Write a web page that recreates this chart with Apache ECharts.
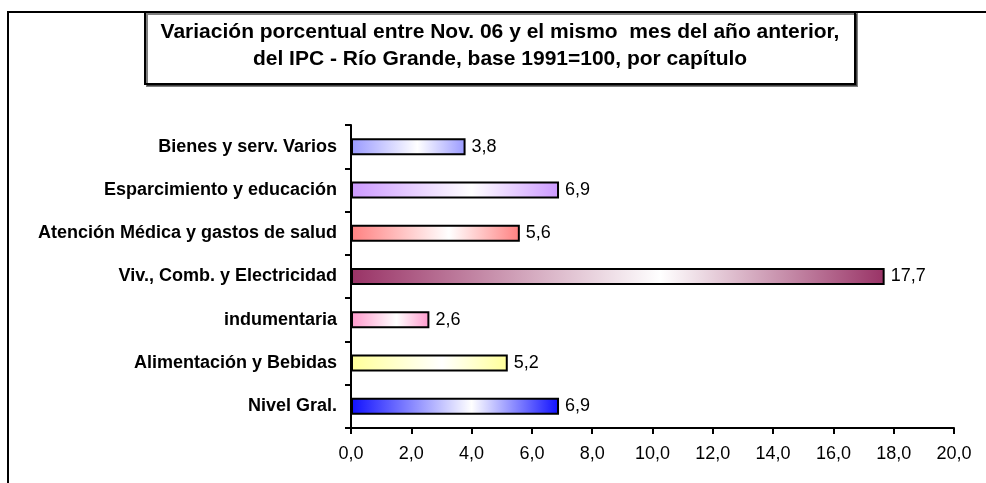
<!DOCTYPE html>
<html>
<head>
<meta charset="utf-8">
<script src="https://cdn.jsdelivr.net/npm/echarts@6/dist/echarts.min.js"></script>
<style>
  html, body { margin: 0; padding: 0; background: #fff; }
  #chart { width: 986px; height: 483px; }
</style>
</head>
<body>
<div id="chart"></div>
<script>
// capítulos, de abajo hacia arriba
const categories = [
  "Nivel Gral.",
  "Alimentación y Bebidas",
  "indumentaria",
  "Viv., Comb. y Electricidad",
  "Atención Médica y gastos de salud",
  "Esparcimiento y educación",
  "Bienes y serv. Varios"
];
const values = [6.9, 5.2, 2.6, 17.7, 5.6, 6.9, 3.8];
const barColors = ["#1010ff", "#ffff99", "#ff99cc", "#993366", "#ff8080", "#cc99ff", "#9999ff"];
const titleLines = [
  "Variación porcentual entre Nov. 06 y el mismo  mes del año anterior,",
  "del IPC - Río Grande, base 1991=100, por capítulo"
];

const font = "'Liberation Sans', Arial, sans-serif";
const coma = v => v.toFixed(1).replace(".", ",");

// degradado tipo Excel: color en los extremos, blanco hacia el centro
function grad(c) {
  return new echarts.graphic.LinearGradient(0, 0, 1, 0, [
    { offset: 0, color: c },
    { offset: 0.58, color: "#ffffff" },
    { offset: 1, color: c }
  ]);
}

const chart = echarts.init(document.getElementById("chart"));
chart.setOption({
  animation: false,
  backgroundColor: "#fff",
  grid: { left: 351, top: 125, width: 603, height: 303, containLabel: false },
  xAxis: {
    type: "value",
    min: 0,
    max: 20,
    interval: 2,
    axisLine: { show: true, lineStyle: { color: "#000", width: 2 } },
    axisTick: { show: true, length: 6, lineStyle: { color: "#000", width: 2 } },
    splitLine: { show: false },
    axisLabel: { color: "#000", fontFamily: font, fontSize: 18, margin: 17, formatter: coma }
  },
  yAxis: {
    type: "category",
    data: categories,
    axisLine: { show: true, lineStyle: { color: "#000", width: 2 } },
    axisTick: { show: true, length: 6, lineStyle: { color: "#000", width: 2 } },
    axisLabel: { color: "#000", fontFamily: font, fontSize: 18, fontWeight: "bold", margin: 14 }
  },
  series: [{
    type: "bar",
    barWidth: 17,
    data: values.map((v, i) => ({
      value: v,
      itemStyle: { color: grad(barColors[i]), borderColor: "#000", borderWidth: 2 }
    })),
    label: {
      show: true,
      position: "right",
      distance: 6,
      color: "#000",
      fontFamily: font,
      fontSize: 18,
      formatter: p => coma(p.value)
    }
  }],
  graphic: [
    {
      type: "rect",
      shape: { x: 8, y: 12, width: 1100, height: 600 },
      style: { fill: null, stroke: "#000", lineWidth: 2 },
      z: 0
    },
    {
      type: "rect",
      shape: { x: 145, y: 12, width: 710, height: 72 },
      style: { fill: "#fff", stroke: "#000", lineWidth: 2, shadowColor: "rgba(0,0,0,0.5)", shadowOffsetX: 2, shadowOffsetY: 2 },
      z: 1
    },
    {
      type: "text",
      x: 500,
      y: 46,
      z: 2,
      style: {
        text: titleLines.join("\n"),
        fontFamily: font,
        fontSize: 21,
        fontWeight: "bold",
        lineHeight: 27,
        fill: "#000",
        align: "center",
        verticalAlign: "middle"
      }
    }
  ]
});
</script>
</body>
</html>
